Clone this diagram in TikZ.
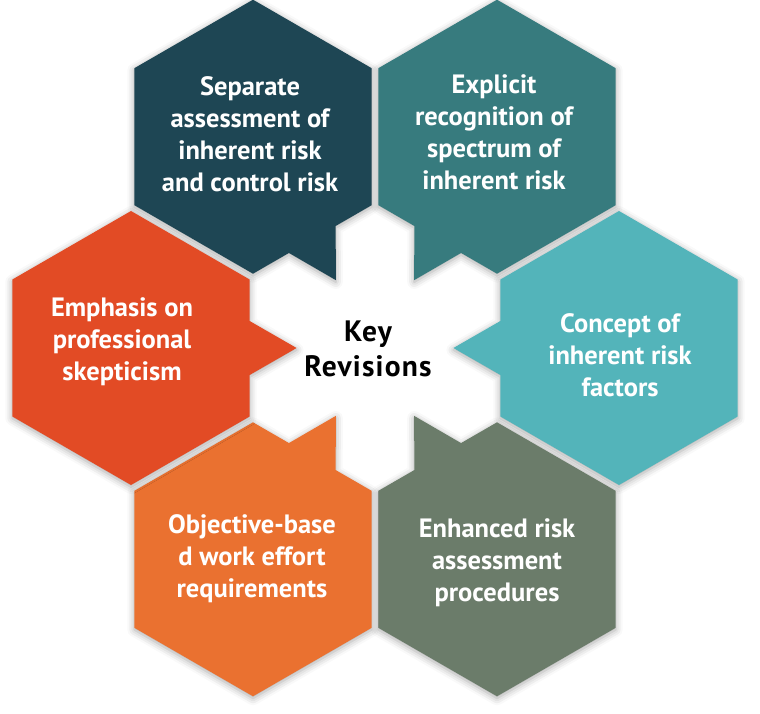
\documentclass[tikz,border=0pt]{standalone}
\usepackage{fontspec}
\setmainfont{PT Sans}
\usetikzlibrary{shadows.blur}
\definecolor{cTL}{HTML}{1E4654}
\definecolor{cTR}{HTML}{377B7E}
\definecolor{cRR}{HTML}{53B4BA}
\definecolor{cBR}{HTML}{6B7C6A}
\definecolor{cBL}{HTML}{EA7130}
\definecolor{cLL}{HTML}{E24B25}
\begin{document}
\begin{tikzpicture}[x=1pt,y=1pt,
  hexlabel/.style={text=white, font=\bfseries\fontsize{26.5}{32}\selectfont, align=center, inner sep=0pt},
  keylabel/.style={text=black, font=\bfseries\fontsize{29.5}{35}\selectfont\addfontfeature{LetterSpace=4}, align=center, inner sep=0pt},
  hexshape/.style={blur shadow={shadow xshift=0pt,shadow yshift=-2pt,shadow blur radius=7pt,shadow opacity=35}}]
\useasboundingbox (0,0) rectangle (760,713);
\coordinate (ctr) at (375,365);
\foreach \a/\col in {120/cTL, 60/cTR, 0/cRR, 300/cBR, 240/cBL, 180/cLL}{
  \pgfmathsetmacro\d{\a+180}
  \fill[\col, hexshape, shift={(ctr)}, shift={(\a:244)}]
    ({\d+30}:137) -- ({\d+90}:137) -- ({\d+150}:137) -- ({\d+210}:137) -- ({\d+270}:137) -- ({\d+330}:137)
    -- ({\d-12.82}:121.68) -- (\d:165.6) -- ({\d+12.82}:121.68) -- cycle;
}
\node[hexlabel] (tTL) at (250,579) {Separate\\assessment of\\inherent risk\\and control risk};
\node[hexlabel] (tTR) at (494,581) {Explicit\\recognition of\\spectrum of\\inherent risk};
\node[hexlabel] (tRR) at (620,358) {Concept of\\inherent risk\\factors};
\node[hexlabel] (tBR) at (497,150) {Enhanced risk\\assessment\\procedures};
\node[hexlabel] (tBL) at (252,154) {Objective-base\\d work effort\\requirements};
\node[hexlabel] (tLL) at (122,371) {Emphasis on\\professional\\skepticism};
\node[keylabel] (key) at (368,364) {Key\\Revisions};
\end{tikzpicture}
\end{document}
